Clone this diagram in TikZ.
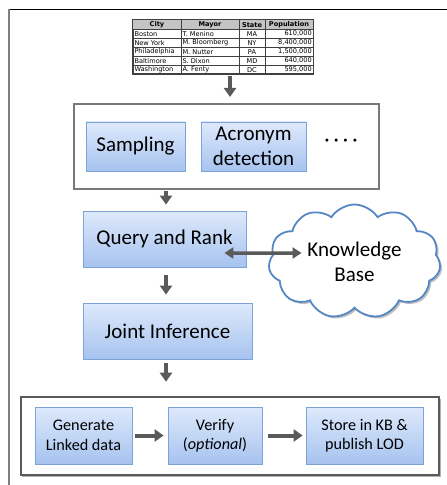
\documentclass[tikz,border=0pt]{standalone}
\usepackage{fontspec}
\setmainfont{Carlito}
\newfontfamily\tabfont{DejaVu Sans}
\usetikzlibrary{shapes.symbols,arrows.meta,shadows,calc}
\definecolor{boxtop}{HTML}{DEE9FB}
\definecolor{boxbot}{HTML}{A6C3EF}
\definecolor{boxline}{HTML}{7DA2D8}
\definecolor{arrgray}{HTML}{5A5A5A}
\definecolor{cloudline}{HTML}{5587C4}
\definecolor{hdrgray}{HTML}{C4C4C4}
\definecolor{gridgray}{HTML}{404040}
\tikzset{
  stepbox/.style={draw=boxline, line width=0.8bp, top color=boxtop, bottom color=boxbot,
    drop shadow={shadow xshift=1.2bp, shadow yshift=-1.2bp, opacity=0.3, fill=black},
    inner sep=0pt, align=center, text=black},
  bigtext/.style={font=\fontsize{21bp}{25bp}\selectfont},
  smalltext/.style={font=\fontsize{16.2bp}{19.5bp}\selectfont},
  groupbox/.style={draw=gray!95!black, line width=2bp, fill=white, inner sep=0pt},
  groupboxb/.style={draw=arrgray, line width=2.6bp, fill=white, inner sep=0pt,
    drop shadow={shadow xshift=1.5bp, shadow yshift=-1.5bp, opacity=0.3, fill=black}},
  arr/.style={draw=arrgray, line width=4bp, -{Triangle[length=9bp,width=12bp]}},
  dblarr/.style={draw=arrgray, line width=3.5bp, {Triangle[length=9bp,width=11bp]}-{Triangle[length=9bp,width=11bp]}},
  tcell/.style={inner sep=0pt, font=\tabfont\fontsize{6.6bp}{8bp}\selectfont},
  thead/.style={inner sep=0pt, font=\tabfont\bfseries\fontsize{6.6bp}{8bp}\selectfont},
}
\begin{document}
\begin{tikzpicture}[x=1bp,y=-1bp]
\useasboundingbox (0,0) rectangle (447,485);
% frame lines
\draw[line width=1.5bp, black] (8,9.5) -- (447,9.5);
\draw[line width=2bp, gray] (8.5,9) -- (8.5,485);

% table
\node[draw=gridgray, line width=1bp, minimum width=180bp, minimum height=54bp, inner sep=0pt] (table) at (223,47) {};
\fill[hdrgray] (133,20) rectangle (313,29);
\foreach \y in {29,38,47,56,65} \draw[gridgray, line width=0.7bp] (133,\y) -- (313,\y);
\foreach \x in {181,239,265} \draw[gridgray, line width=0.7bp] (\x,20) -- (\x,74);
\draw[gridgray, line width=1bp] (table.north west) rectangle (table.south east);
\node[thead] (h1) at (157,24.7) {City};
\node[thead] (h2) at (210,24.7) {Mayor};
\node[thead] (h3) at (252,24.7) {State};
\node[thead] (h4) at (289,24.7) {Population};
\foreach \i/\c/\m/\s/\p in {1/Boston/T. Menino/MA/610{,}000,
                            2/New York/M. Bloomberg/NY/8{,}400{,}000,
                            3/Philadelphia/M. Nutter/PA/1{,}500{,}000,
                            4/Baltimore/S. Dixon/MD/640{,}000,
                            5/Washington/A. Fenty/DC/595{,}000}{
  \pgfmathsetmacro{\yy}{24.7+9*\i}
  \node[tcell, anchor=west] (city\i) at (134.3,\yy) {\c};
  \node[tcell, anchor=west] (mayor\i) at (182.3,\yy) {\m};
  \node[tcell] (state\i) at (252,\yy) {\s};
  \node[tcell, anchor=east] (pop\i) at (312,\yy) {\p};
}

% group 1
\node[groupbox, minimum width=305bp, minimum height=85bp] (box1) at (226.5,146.5) {};
\node[stepbox, bigtext, minimum width=99bp, minimum height=49bp] (sampling) at (135.5,146.5) {Sampling};
\node[stepbox, bigtext, minimum width=105bp, minimum height=49bp] (acronym) at (253.5,146.5) {Acronym\\detection};
\node[bigtext, inner sep=0pt] (dots) at (341,143) {·\hspace{4bp}·\hspace{4bp}·\hspace{4bp}·};

% middle boxes
\node[stepbox, bigtext, minimum width=163bp, minimum height=56bp] (query) at (164.5,239) {Query and Rank};
\node[stepbox, bigtext, minimum width=169bp, minimum height=56bp] (joint) at (167.5,331) {Joint Inference};

% cloud
\node[cloud, cloud puffs=11, cloud puff arc=115, aspect=1.5, draw=cloudline, line width=1.8bp, fill=white,
      minimum width=172bp, minimum height=114bp, inner sep=0pt, bigtext, align=center,
      drop shadow={shadow xshift=2bp, shadow yshift=-2bp, opacity=0.25, fill=black}] (kb) at (354.5,261.5) {Knowledge\\Base};

% group 2
\node[groupboxb, minimum width=418bp, minimum height=78bp] (box2) at (230,436) {};
\node[stepbox, smalltext, minimum width=97bp, minimum height=57bp] (gen) at (83.5,435.5) {Generate\\Linked data};
\node[stepbox, smalltext, minimum width=94bp, minimum height=57bp] (verify) at (215,435.5) {Verify\\(\textit{optional})};
\node[stepbox, smalltext, minimum width=117bp, minimum height=57bp] (store) at (364.5,435.5) {Store in KB \&\\publish LOD};

% arrow end points
\coordinate (a1s) at ($(table.south)+(7,2)$);
\coordinate (a1e) at (a1s |- box1.north);
\coordinate (a2s) at ($(box1.south -| query.north)+(1.5,0)$);
\coordinate (a2e) at ($(query.north)+(1.5,0)$);
\coordinate (a3s) at ($(query.south)+(1.5,0)$);
\coordinate (a3e) at (a3s |- joint.north);
\coordinate (a4s) at ($(joint.south)+(-1.5,0)$);
\coordinate (a4e) at (a4s |- box2.north);

% arrows
\draw[arr, shorten >=6bp] (a1s) -- (a1e);
\draw[arr, shorten <=1bp, shorten >=6bp] (a2s) -- (a2e);
\draw[arr, shorten <=8bp, shorten >=8bp] (a3s) -- (a3e);
\draw[arr, shorten <=4bp, shorten >=14bp] (a4s) -- (a4e);
\draw[dblarr] ($(query.east)+(-22,14)$) -- ($(kb.west)+(33,-8.5)$);
\draw[arr, shorten <=3bp, shorten >=4bp] (gen.east) -- (verify.west);
\draw[arr, shorten <=6bp, shorten >=3bp] (verify.east) -- (store.west);
\end{tikzpicture}
\end{document}
